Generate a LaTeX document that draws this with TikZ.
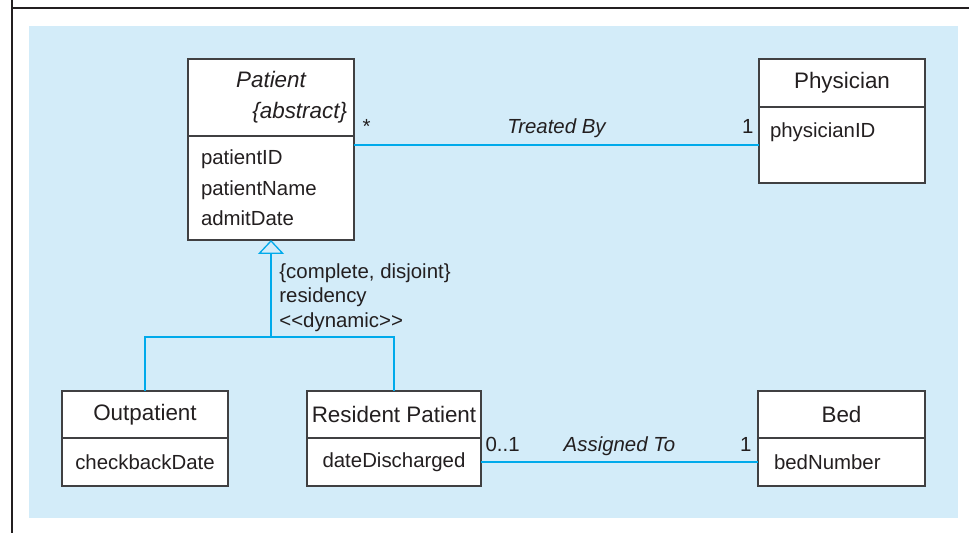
\documentclass[tikz,border=0pt]{standalone}
\usepackage{fontspec}
\setmainfont{Liberation Sans}
\usetikzlibrary{arrows.meta,positioning}
\definecolor{panelblue}{RGB}{211,236,249}
\definecolor{linkblue}{RGB}{0,170,235}
\definecolor{boxgray}{RGB}{64,64,66}
\definecolor{textgray}{RGB}{35,31,32}
\newcommand{\headfont}{\fontsize{11.2}{15.5}\selectfont}
\newcommand{\attrfont}{\fontsize{10.2}{15.25}\selectfont}

\begin{document}
\begin{tikzpicture}[x=0.5pt, y=-0.5pt, >=Latex]
    \tikzset{
        part/.style={draw=boxgray, fill=white, line width=0.65pt, inner sep=0pt, outer sep=0pt, text=textgray},
        head/.style={part, font=\headfont},
        attrs/.style={part, font=\attrfont},
        link/.style={draw=linkblue, line width=0.65pt},
        tag/.style={font=\attrfont, text=textgray, inner sep=0pt}
    }
    \useasboundingbox (0,0) rectangle (969,533);
    \fill[panelblue] (29,26) rectangle (958,518);
    \draw[textgray, line width=1.15pt] (12,533) -- (12,0) (12,8) -- (969,8);

    % classes
    \node[head, text width=76pt, inner xsep=3.5pt, minimum height=38.5pt, align=right, font=\headfont\itshape] (pat) at (271,97.5) {\makebox[76pt]{Patient}\\\{abstract\}};
    \node[attrs, below=0pt of pat, text width=70pt, inner xsep=6.5pt, minimum height=52pt, align=left] (patb) {patientID\\patientName\\admitDate};
    \node[head, minimum width=83pt, minimum height=24pt] (phy) at (842,83) {Physician};
    \node[attrs, below=0pt of phy, text width=72pt, inner xsep=5.5pt, minimum height=38pt, align=left] (phyb) {physicianID\\~};
    \node[head, minimum width=83pt, minimum height=23.5pt] (out) at (145,414.5) {Outpatient};
    \node[attrs, below=0pt of out, minimum width=83pt, minimum height=24pt] (outb) {checkbackDate};
    \node[head, minimum width=87pt, minimum height=23.5pt] (res) at (394,414.5) {Resident Patient};
    \node[attrs, below=0pt of res, minimum width=87pt, minimum height=24pt] (resb) {dateDischarged};
    \node[head, minimum width=83.5pt, minimum height=23.5pt] (bed) at (841.5,414.5) {Bed};
    \node[attrs, below=0pt of bed, text width=67.5pt, inner xsep=8pt, minimum height=24pt, align=left] (bedb) {bedNumber};

    % associations
    \draw[link] (patb.east |- phyb.west) -- (phyb.west)
        node[tag, pos=0, anchor=base west, xshift=4pt, yshift=5.5pt] (mstar) {*}
        node[tag, midway, anchor=base, yshift=5.5pt, font=\attrfont\itshape] (treat) {Treated By}
        node[tag, pos=1, anchor=base east, xshift=-2.5pt, yshift=5.5pt] (mone) {1};
    \draw[link] (resb.east) -- (bedb.west)
        node[tag, pos=0, anchor=base west, xshift=2pt, yshift=5pt] (bzero) {0..1}
        node[tag, midway, anchor=base, yshift=5pt, font=\attrfont\itshape] (assign) {Assigned To}
        node[tag, pos=1, anchor=base east, xshift=-3pt, yshift=5pt] (bone) {1};

    % generalization
    \coordinate (split) at (271,337);
    \draw[link, -{Triangle[open, width=13pt, length=7pt]}] (split) -- (patb.south);
    \draw[link] (out.north) |- (split) -| (res.north);
    \node[tag, anchor=west, align=left, font=\fontsize{10.2}{12.25}\selectfont] (gentxt) at (279,297.5) {\{complete, disjoint\}\\residency\\<\kern0pt<dynamic>\kern0pt>};
\end{tikzpicture}
\end{document}
